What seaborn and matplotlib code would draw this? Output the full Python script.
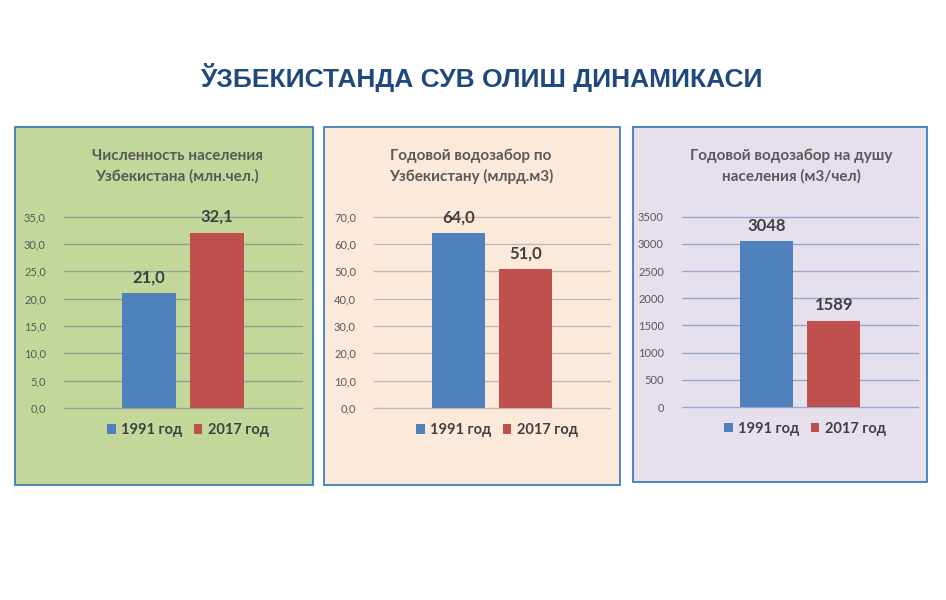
import matplotlib
matplotlib.use("Agg")
import matplotlib.pyplot as plt
from matplotlib.patches import Rectangle
import seaborn as sns
import pandas as pd

# ---- data ----
main_title = "ЎЗБЕКИСТАНДА СУВ ОЛИШ ДИНАМИКАСИ"
series = ["1991 год", "2017 год"]
population = [21.0, 32.1]
water_total = [64.0, 51.0]
water_per_capita = [3048, 1589]
titles = [
    "Численность населения\nУзбекистана (млн.чел.)",
    "Годовой водозабор по\nУзбекистану (млрд.м3)",
    "Годовой водозабор на душу\nнаселения (м3/чел)",
]
ymax = [35, 70, 3500]
ystep = [5, 10, 500]
decimals = [1, 1, 0]

sns.set_theme(style="white")
plt.rcParams["font.family"] = ["Lato", "DejaVu Sans"]

W, H = 946, 600
fig = plt.figure(figsize=(W / 100, H / 100), dpi=100)
fig.patch.set_facecolor("white")

def fx(px):
    return px / W

def fy(py):
    return 1 - py / H

# panel boxes (pixel coords: left, top, right, bottom)
panels = [(15, 127, 313, 485), (324, 127, 620, 485), (633, 127, 927, 482)]
panel_bg = ["#c4d79b", "#fde9d9", "#e5e0ec"]
axes_px = [(64, 216, 302, 408), (374, 216, 610, 408), (682, 216, 918, 407)]
title_cx = [177, 471, 791]
grid_colors = ["#93a287", "#c2b8b4", "#9aa6cc"]

blue = "#4f81bd"
red = "#c0504d"
palette = [blue, red]

datasets = [population, water_total, water_per_capita]

for i in range(3):
    l, t, r, b = panels[i]
    fig.patches.append(Rectangle((fx(l), fy(b)), fx(r - l), (b - t) / H,
                                 transform=fig.transFigure, facecolor=panel_bg[i],
                                 edgecolor="#2e74b5", linewidth=1.2, zorder=-5))
    al, at, ar, ab = axes_px[i]
    ax = fig.add_axes([fx(al), fy(ab), fx(ar - al), (ab - at) / H])
    ax.set_zorder(2)
    ax.set_facecolor("none")
    df = pd.DataFrame({"cat": [""] * 2, "series": series, "value": datasets[i]})
    sns.barplot(data=df, x="cat", y="value", hue="series", palette=palette,
                width=0.571, gap=0.206, saturation=1, ax=ax, zorder=3,
                edgecolor="none", linewidth=0)
    ax.set_xlim(-0.5, 0.5)
    ax.set_ylim(0, ymax[i] * 1.004)
    ticks = list(range(0, ymax[i] + 1, ystep[i]))
    ax.set_yticks(ticks)
    if decimals[i]:
        ax.set_yticklabels([f"{v:.1f}".replace(".", ",") for v in ticks])
    else:
        ax.set_yticklabels([str(v) for v in ticks])
    ax.tick_params(axis="y", length=0, pad=13, labelsize=8, labelcolor="#595959")
    ax.set_xticks([])
    ax.set_xlabel("")
    ax.set_ylabel("")
    for s in ax.spines.values():
        s.set_visible(False)
    ax.yaxis.grid(True, color=grid_colors[i], linewidth=1.0)
    ax.set_axisbelow(True)
    for gl in ax.get_ygridlines():
        gl.set_clip_on(False)
    for c in ax.containers:
        if decimals[i]:
            labs = [f"{v:.1f}".replace(".", ",") for v in c.datavalues]
        else:
            labs = [f"{int(round(v))}" for v in c.datavalues]
        ax.bar_label(c, labels=labs, padding=5.5, fontsize=12, fontweight="bold",
                     color="#404040")
    handles, labels = ax.get_legend_handles_labels()
    if ax.get_legend():
        ax.get_legend().remove()
    ax.legend(handles, labels, loc="center", bbox_to_anchor=(0.52, -0.115), ncol=2,
              frameon=False, handlelength=0.6, handleheight=0.6,
              handletextpad=0.35, columnspacing=0.8,
              prop={"weight": "bold", "size": 10.5}, labelcolor="#404040")
    fig.text(fx(title_cx[i]), fy(166), titles[i], ha="center", va="center",
             fontsize=11, fontweight="bold", color="#595959", linespacing=1.5)

fig.text(fx(481), fy(78), main_title, ha="center", va="center",
         fontsize=19, fontweight="bold", color="#1f497d",
         family=["Liberation Sans", "DejaVu Sans"])

fig.savefig("out.png", dpi=100)
